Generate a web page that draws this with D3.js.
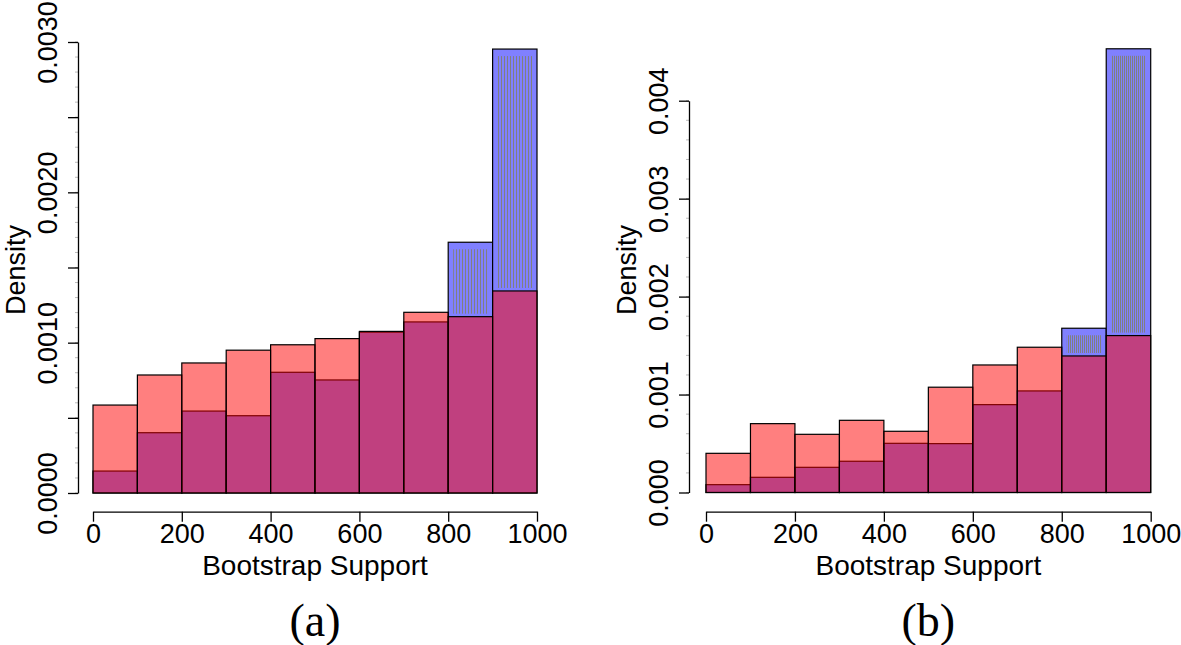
<!DOCTYPE html>
<html>
<head>
<meta charset="utf-8">
<script src="https://cdn.jsdelivr.net/npm/d3@7"></script>
<style>
  html, body { margin: 0; padding: 0; background: #fff; }
  svg { display: block; }
  text { font-family: "Liberation Sans", Arial, sans-serif; fill: #000; }
</style>
</head>
<body>
<svg id="chart" width="1181" height="645"></svg>
<script>
// ---- data ----
const binStarts = [0, 100, 200, 300, 400, 500, 600, 700, 800, 900];
const binWidth = 100;
const xTicks = [0, 200, 400, 600, 800, 1000];

// panel (a)
const redA  = [0.000585, 0.000785, 0.000865, 0.000950, 0.000986, 0.001027, 0.001075, 0.001202, 0.001173, 0.001344];
const blueA = [0.000146, 0.000401, 0.000545, 0.000514, 0.000803, 0.000752, 0.001070, 0.001138, 0.001668, 0.002953];
const yTicksA = [0, 0.0005, 0.0010, 0.0015, 0.0020, 0.0025, 0.0030];
const yLabelsA = ["0.0000", "", "0.0010", "", "0.0020", "", "0.0030"];

// panel (b)
const redB  = [0.000400, 0.000703, 0.000594, 0.000737, 0.000625, 0.001075, 0.001302, 0.001483, 0.001394, 0.001602];
const blueB = [0.000080, 0.000155, 0.000257, 0.000319, 0.000502, 0.000499, 0.000897, 0.001037, 0.001677, 0.004530];
const yTicksB = [0, 0.001, 0.002, 0.003, 0.004];
const yLabelsB = ["0.000", "0.001", "0.002", "0.003", "0.004"];

const panels = [
  { red: redA, blue: blueA, yTicks: yTicksA, yLabels: yLabelsA, minorStep: 0.0001, yMax: 0.003,
    xRange: [93, 537], yRange: [493, 42], axisX: 78, tag: "(a)", tex: "stripesA" },
  { red: redB, blue: blueB, yTicks: yTicksB, yLabels: yLabelsB, minorStep: 0.0002, yMax: 0.004,
    xRange: [706, 1150.7], yRange: [492.5, 100.7], axisX: 689, tag: "(b)", tex: "stripesB" }
];

const svg = d3.select("#chart");
svg.append("rect").attr("width", 1181).attr("height", 645).attr("fill", "#fff");

// stripe patterns for the exposed blue area (as in the printed reference)
const defs = svg.append("defs");
function stripes(id, period) {
  const pat = defs.append("pattern").attr("id", id).attr("patternUnits", "userSpaceOnUse")
    .attr("width", period).attr("height", 2);
  pat.append("rect").attr("width", period).attr("height", 2).attr("fill", "#8080ff");
  pat.append("rect").attr("width", 1).attr("height", 2).attr("fill", "#808080");
}
stripes("stripesA", 3);
stripes("stripesB", 2);

const axisY = 511.7;
const fs = 27;

panels.forEach(p => {
  const x = d3.scaleLinear().domain([0, 1000]).range(p.xRange);
  const y = d3.scaleLinear().domain([0, p.yMax]).range(p.yRange);
  const g = svg.append("g");
  const data = binStarts.map((b, i) => ({ b, red: p.red[i], blue: p.blue[i] }));

  // blue histogram
  g.selectAll("rect.blue").data(data).join("rect")
    .attr("class", "blue")
    .attr("x", d => x(d.b)).attr("width", d => x(d.b + binWidth) - x(d.b))
    .attr("y", d => y(d.blue)).attr("height", d => y(0) - y(d.blue))
    .attr("fill", "#8080ff").attr("stroke", "#000").attr("stroke-width", 1.2);

  // exposed blue area texture
  g.selectAll("rect.tex").data(data.filter(d => d.blue > d.red)).join("rect")
    .attr("class", "tex")
    .attr("x", d => x(d.b) + 5).attr("width", d => x(d.b + binWidth) - x(d.b) - 10)
    .attr("y", d => y(d.blue) + 7).attr("height", d => Math.max(0, y(d.red) - y(d.blue) - 10))
    .attr("fill", `url(#${p.tex})`);

  // red histogram on top
  g.selectAll("rect.red").data(data).join("rect")
    .attr("class", "red")
    .attr("x", d => x(d.b)).attr("width", d => x(d.b + binWidth) - x(d.b))
    .attr("y", d => y(d.red)).attr("height", d => y(0) - y(d.red))
    .attr("fill", "rgba(255,0,0,0.5)").attr("stroke", "#000").attr("stroke-width", 1.2);

  // minor y ticks (faint)
  const minor = d3.range(0, p.yMax + 1e-9, p.minorStep);
  g.selectAll("line.minor").data(minor).join("line")
    .attr("x1", p.axisX - 3).attr("x2", p.axisX)
    .attr("y1", d => y(d)).attr("y2", d => y(d))
    .attr("stroke", "#bbb").attr("stroke-width", 1);

  // y axis
  const ya = g.append("g").attr("transform", `translate(${p.axisX},0)`)
    .call(d3.axisLeft(y).tickValues(p.yTicks).tickSize(10).tickSizeOuter(0)
      .tickFormat((d, i) => p.yLabels[i]));
  ya.selectAll("path, line").attr("stroke", "#000").attr("stroke-width", 1.3);
  ya.selectAll("text")
    .attr("x", null).attr("dy", null)
    .attr("transform", "translate(-21,0) rotate(-90)")
    .attr("text-anchor", "middle")
    .style("font-size", fs + "px")
    .style("font-family", '"Liberation Sans", Arial, sans-serif');

  // x axis
  const xa = g.append("g").attr("transform", `translate(0,${axisY})`)
    .call(d3.axisBottom(x).tickValues(xTicks).tickSize(10).tickSizeOuter(0).tickFormat(d3.format("d")));
  xa.selectAll("path, line").attr("stroke", "#000").attr("stroke-width", 1.3);
  xa.selectAll("text")
    .attr("y", 31).attr("dy", null)
    .style("font-size", fs + "px")
    .style("font-family", '"Liberation Sans", Arial, sans-serif');

  // axis titles
  const cx = (p.xRange[0] + p.xRange[1]) / 2;
  g.append("text").attr("x", cx).attr("y", 575).attr("text-anchor", "middle")
    .style("font-size", (fs + 1) + "px").text("Bootstrap Support");
  g.append("text").attr("transform", `translate(${p.axisX - 53},270) rotate(-90)`)
    .attr("text-anchor", "middle").style("font-size", fs + "px").text("Density");

  // panel tag
  g.append("text").attr("x", cx).attr("y", 636).attr("text-anchor", "middle")
    .style("font-family", '"Liberation Serif", "Times New Roman", serif')
    .style("font-size", "46px").text(p.tag);
});
</script>
</body>
</html>
